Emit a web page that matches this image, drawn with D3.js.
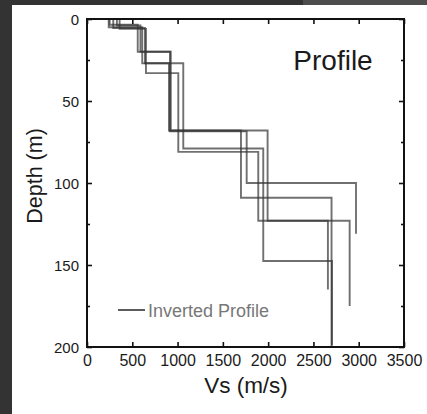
<!DOCTYPE html>
<html><head><meta charset="utf-8">
<script src="https://cdn.jsdelivr.net/npm/d3@7"></script>
<style>html,body{margin:0;padding:0;background:#333;}svg{display:block;}</style>
</head><body>
<script>
// Layer velocities (m/s) and layer bottom depths (m) for each inverted profile
const profileNames = ["P1","P2","P3","P4","P5"];
const vs1 = [250, 560, 916, 1763, 2970];
const dep1 = [3.5, 20, 68.5, 100, 131];
const vs2 = [290, 640, 905, 1700, 2700];
const dep2 = [5.5, 27, 68, 109, 200];
const vs3 = [360, 651, 1008, 1891, 2900];
const dep3 = [6, 33, 81, 123, 175];
const vs4 = [330, 590, 925, 1994, 2660];
const dep4 = [4, 20, 68, 123, 165];
const vs5 = [240, 610, 1063, 1946, 2705];
const dep5 = [5, 27, 79, 147.6, 199];
const xTicks = [0, 500, 1000, 1500, 2000, 2500, 3000, 3500];
const yTicks = [0, 50, 100, 150, 200];
const yMinor = [25, 75, 125, 175];
const legendLabel = "Inverted Profile";
const titleText = "Profile";

const W = 427, H = 414;
const svg = d3.select("body").append("svg").attr("width", W).attr("height", H);
svg.append("rect").attr("width", W).attr("height", H).attr("fill", "#333");
svg.append("rect").attr("x", 303).attr("y", 0).attr("width", W - 303).attr("height", 5).attr("fill", "#4d4d4d");
svg.append("rect").attr("x", 12).attr("y", 5).attr("width", W - 12).attr("height", H - 5).attr("fill", "#fff");

const L = 87, R = 404, T = 19, B = 347;
const x = d3.scaleLinear().domain([0, 3500]).range([L, R]);
const y = d3.scaleLinear().domain([0, 200]).range([T, B]);
const font = "'Liberation Sans', Arial, sans-serif";

// profiles
const profiles = [[vs1, dep1], [vs2, dep2], [vs3, dep3], [vs4, dep4], [vs5, dep5]];
const line = d3.line().x(d => x(d[0])).y(d => y(d[1]));
profiles.forEach(([vs, dep]) => {
  const pts = [];
  let top = 0;
  vs.forEach((v, i) => { pts.push([v, top]); pts.push([v, dep[i]]); top = dep[i]; });
  svg.append("path").attr("d", line(pts)).attr("fill", "none")
    .attr("stroke", "#333").attr("stroke-opacity", 0.7).attr("stroke-width", 1.9);
});

// axes
const axB = svg.append("g").attr("transform", `translate(0,${B})`)
  .call(d3.axisBottom(x).tickValues(xTicks).tickSize(-5).tickPadding(8).tickFormat(d3.format("d")));
const axT = svg.append("g").attr("transform", `translate(0,${T})`)
  .call(d3.axisTop(x).tickValues(xTicks).tickSize(-5).tickFormat(""));
const axL = svg.append("g").attr("transform", `translate(${L},0)`)
  .call(d3.axisLeft(y).tickValues(yTicks).tickSize(-5).tickPadding(8).tickFormat(d3.format("d")));
const axLm = svg.append("g").attr("transform", `translate(${L},0)`)
  .call(d3.axisLeft(y).tickValues(yMinor).tickSize(-3).tickFormat(""));
const axR = svg.append("g").attr("transform", `translate(${R},0)`)
  .call(d3.axisRight(y).tickValues(yTicks).tickSize(-5).tickFormat(""));
const axRm = svg.append("g").attr("transform", `translate(${R},0)`)
  .call(d3.axisRight(y).tickValues(yMinor).tickSize(-3).tickFormat(""));
[axB, axT, axL, axLm, axR, axRm].forEach(g => {
  g.select(".domain").remove();
  g.selectAll(".tick line").attr("stroke", "#111").attr("stroke-width", 1.6);
  g.selectAll("text").attr("font-family", font).attr("fill", "#1a1a1a");
});
axB.selectAll("text").attr("font-size", 16);
axL.selectAll("text").attr("font-size", 15).attr("dy", "0.35em");

svg.append("rect").attr("x", L).attr("y", T).attr("width", R - L).attr("height", B - T)
  .attr("fill", "none").attr("stroke", "#111").attr("stroke-width", 2);

// titles
svg.append("text").attr("x", 246).attr("y", 393).attr("text-anchor", "middle")
  .attr("font-family", font).attr("font-size", 22.5).attr("fill", "#1a1a1a").text("Vs (m/s)");
svg.append("text").attr("transform", `translate(42,176) rotate(-90)`)
  .attr("text-anchor", "middle").attr("font-family", font).attr("font-size", 21.5)
  .attr("fill", "#1a1a1a").text("Depth (m)");
svg.append("text").attr("x", 333).attr("y", 70).attr("text-anchor", "middle")
  .attr("font-family", font).attr("font-size", 28).attr("fill", "#1a1a1a").text(titleText);

// legend
svg.append("line").attr("x1", 118).attr("x2", 145).attr("y1", 310).attr("y2", 310)
  .attr("stroke", "#333").attr("stroke-width", 1.6);
svg.append("text").attr("x", 148).attr("y", 316.5).attr("font-family", font)
  .attr("font-size", 18).attr("fill", "#777").text(legendLabel);
</script>
</body></html>
